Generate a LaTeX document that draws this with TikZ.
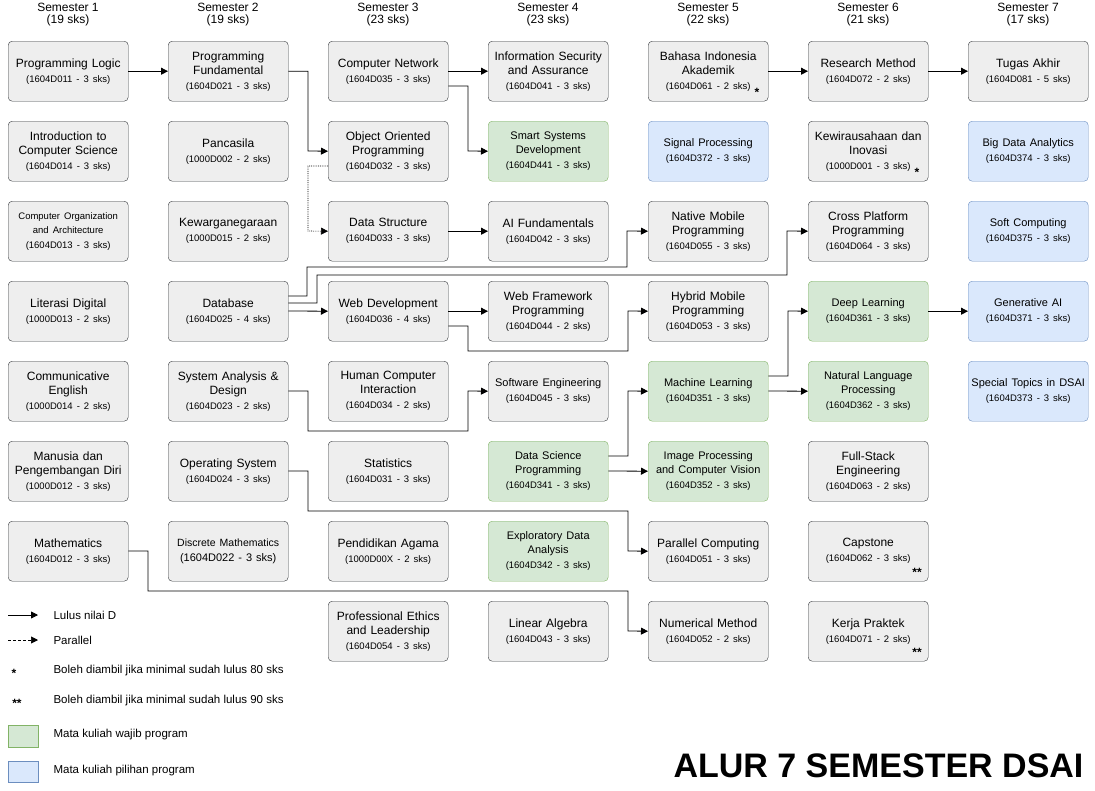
\documentclass[tikz,border=0pt]{standalone}
\usepackage{fontspec}
\setmainfont{Liberation Sans}
\usetikzlibrary{arrows.meta,positioning}
\definecolor{gfill}{HTML}{EEEEEE}
\definecolor{gline}{HTML}{36393D}
\definecolor{wfill}{HTML}{D5E8D4}
\definecolor{wline}{HTML}{82B366}
\definecolor{pfill}{HTML}{DAE8FC}
\definecolor{pline}{HTML}{6C8EBF}
\tikzset{
  mk/.style={draw=gline, fill=gfill, rounded corners=4pt, minimum width=120pt, minimum height=60pt,
    text width=118pt, align=center, anchor=north west, inner sep=1pt, font=\fontsize{12}{14}\selectfont,
    execute at begin node={\hyphenpenalty=10000\exhyphenpenalty=10000}},
  wajib/.style={mk, draw=wline, fill=wfill},
  pilih/.style={mk, draw=pline, fill=pfill},
  go/.style={-{Triangle[length=7pt,width=7pt]}, line width=0.8pt},
  hd/.style={font=\fontsize{12}{14}\selectfont, align=center},
  lg/.style={anchor=west, font=\fontsize{11.5}{12}\selectfont}
}
\newcommand{\kd}[1]{\\[1pt]{\fontsize{9.5}{12}\selectfont(#1)}}
\begin{document}
\begin{tikzpicture}[x=1pt,y=-1pt]
\useasboundingbox (0,0) rectangle (1095,790);
% headers
\foreach \n/\s [count=\i] in {1/19,2/19,3/23,4/23,5/22,6/21,7/17}
  \node[hd] (h\i) at ({160*\i-92},15) {Semester \n\\[-2pt](\s{} sks)};
% semester 1
\draw (8,41) node[mk] (pl) {Programming Logic\kd{1604D011 - 3 sks}};
\draw (8,121) node[mk] (ics) {Introduction to Computer Science\kd{1604D014 - 3 sks}};
\draw (8,201) node[mk] (coa) {{\fontsize{9.5}{14}\selectfont Computer Organization and Architecture}\kd{1604D013 - 3 sks}};
\draw (8,281) node[mk] (ld) {Literasi Digital\kd{1000D013 - 2 sks}};
\draw (8,361) node[mk] (ce) {Communicative English\kd{1000D014 - 2 sks}};
\draw (8,441) node[mk] (mpd) {Manusia dan Pengembangan Diri\kd{1000D012 - 3 sks}};
\draw (8,521) node[mk] (math) {Mathematics\kd{1604D012 - 3 sks}};
% semester 2
\draw (168,41) node[mk] (pf) {Programming Fundamental\kd{1604D021 - 3 sks}};
\draw (168,121) node[mk] (pan) {Pancasila\kd{1000D002 - 2 sks}};
\draw (168,201) node[mk] (kwn) {Kewarganegaraan\kd{1000D015 - 2 sks}};
\draw (168,281) node[mk] (db) {Database\kd{1604D025 - 4 sks}};
\draw (168,361) node[mk] (sad) {System Analysis \&\\Design\kd{1604D023 - 2 sks}};
\draw (168,441) node[mk] (os) {Operating System\kd{1604D024 - 3 sks}};
\draw (168,521) node[mk] (dm) {{\fontsize{10.5}{14}\selectfont Discrete Mathematics}\\[1pt]{\fontsize{11}{12}\selectfont(1604D022 - 3 sks)}};
% semester 3
\draw (328,41) node[mk] (cn) {Computer Network\kd{1604D035 - 3 sks}};
\draw (328,121) node[mk] (oop) {Object Oriented Programming\kd{1604D032 - 3 sks}};
\draw (328,201) node[mk] (ds) {Data Structure\kd{1604D033 - 3 sks}};
\draw (328,281) node[mk] (wd) {Web Development\kd{1604D036 - 4 sks}};
\draw (328,361) node[mk] (hci) {Human Computer Interaction\kd{1604D034 - 2 sks}};
\draw (328,441) node[mk] (stat) {Statistics\kd{1604D031 - 3 sks}};
\draw (328,521) node[mk] (pa) {Pendidikan Agama\kd{1000D00X - 2 sks}};
\draw (328,601) node[mk] (pel) {Professional Ethics and Leadership\kd{1604D054 - 3 sks}};
% semester 4
\draw (488,41) node[mk] (isa) {Information Security and Assurance\kd{1604D041 - 3 sks}};
\draw (488,121) node[wajib] (ssd) {{\fontsize{11}{14}\selectfont Smart Systems Development}\kd{1604D441 - 3 sks}};
\draw (488,201) node[mk] (aif) {AI Fundamentals\kd{1604D042 - 3 sks}};
\draw (488,281) node[mk] (wfp) {Web Framework Programming\kd{1604D044 - 2 sks}};
\draw (488,361) node[mk] (se) {{\fontsize{11}{14}\selectfont Software Engineering}\kd{1604D045 - 3 sks}};
\draw (488,441) node[wajib] (dsp) {{\fontsize{11}{14}\selectfont Data Science Programming}\kd{1604D341 - 3 sks}};
\draw (488,521) node[wajib] (eda) {{\fontsize{11}{14}\selectfont Exploratory Data\\Analysis}\kd{1604D342 - 3 sks}};
\draw (488,601) node[mk] (la) {Linear Algebra\kd{1604D043 - 3 sks}};
% semester 5
\draw (648,41) node[mk] (bia) {Bahasa Indonesia Akademik\kd{1604D061 - 2 sks}};
\draw (648,121) node[pilih] (sp) {{\fontsize{11}{14}\selectfont Signal Processing}\kd{1604D372 - 3 sks}};
\draw (648,201) node[mk] (nmp) {Native Mobile Programming\kd{1604D055 - 3 sks}};
\draw (648,281) node[mk] (hmp) {Hybrid Mobile Programming\kd{1604D053 - 3 sks}};
\draw (648,361) node[wajib] (ml) {{\fontsize{11}{14}\selectfont Machine Learning}\kd{1604D351 - 3 sks}};
\draw (648,441) node[wajib] (ipcv) {{\fontsize{11}{14}\selectfont Image Processing and Computer Vision}\kd{1604D352 - 3 sks}};
\draw (648,521) node[mk] (pc) {Parallel Computing\kd{1604D051 - 3 sks}};
\draw (648,601) node[mk] (nm) {Numerical Method\kd{1604D052 - 2 sks}};
% semester 6
\draw (808,41) node[mk] (rm) {Research Method\kd{1604D072 - 2 sks}};
\draw (808,121) node[mk] (ki) {Kewirausahaan dan\\Inovasi\kd{1000D001 - 3 sks}};
\draw (808,201) node[mk] (cpp) {Cross Platform Programming\kd{1604D064 - 3 sks}};
\draw (808,281) node[wajib] (dl) {{\fontsize{11}{14}\selectfont Deep Learning}\kd{1604D361 - 3 sks}};
\draw (808,361) node[wajib] (nlp) {{\fontsize{11}{14}\selectfont Natural Language Processing}\kd{1604D362 - 3 sks}};
\draw (808,441) node[mk] (fse) {Full-Stack Engineering\kd{1604D063 - 2 sks}};
\draw (808,521) node[mk] (cap) {Capstone\kd{1604D062 - 3 sks}};
\draw (808,601) node[mk] (kp) {Kerja Praktek\kd{1604D071 - 2 sks}};
% semester 7
\draw (968,41) node[mk] (ta) {Tugas Akhir\kd{1604D081 - 5 sks}};
\draw (968,121) node[pilih] (bda) {{\fontsize{11}{14}\selectfont Big Data Analytics}\kd{1604D374 - 3 sks}};
\draw (968,201) node[pilih] (sc) {{\fontsize{11}{14}\selectfont Soft Computing}\kd{1604D375 - 3 sks}};
\draw (968,281) node[pilih] (gai) {{\fontsize{11}{14}\selectfont Generative AI}\kd{1604D371 - 3 sks}};
\draw (968,361) node[pilih] (stds) {{\fontsize{11}{14}\selectfont Special Topics in DSAI}\kd{1604D373 - 3 sks}};
% stars
\node[font=\bfseries\fontsize{12}{12}\selectfont] (s1) at (757,92) {*};
\node[font=\bfseries\fontsize{12}{12}\selectfont] (s2) at (917,172) {*};
\node[font=\bfseries\fontsize{12}{12}\selectfont] (s3) at (917,572) {**};
\node[font=\bfseries\fontsize{12}{12}\selectfont] (s4) at (917,652) {**};
% prerequisites
\draw[go] (pl) -- (pf);
\draw[go] (pf.east) -| (308,151) -- (oop.west);
\draw[go, densely dotted, line width=0.6pt] (oop.west |- 0,166) -| (308,231) -- (ds.west);
\draw[go] (cn) -- (isa);
\draw[go] (cn.east |- 0,86) -| (468,151) -- (ssd.west);
\draw[go] (ds) -- (aif);
\draw[go] (db.east |- 0,296) -| (307,267) -| (627,231) -- (nmp.west);
\draw[go] (db.east |- 0,303) -| (317,275) -| (787,231) -- (cpp.west);
\draw[go] (db.east |- 0,311) -- (wd.west);
\draw[go] (wd) -- (wfp);
\draw[go] (wd.east |- 0,326) -| (468,351) -| (628,311) -- (hmp.west);
\draw[go] (sad.east |- 0,391) -| (308,431) -| (468,391) -- (se.west);
\draw[go] (dsp.east |- 0,456) -| (628,391) -- (ml.west);
\draw[go] (dsp.east |- 0,471) -- (ipcv.west);
\draw[go] (ml.east |- 0,376) -| (788,311) -- (dl.west);
\draw[go] (ml.east |- 0,391) -- (nlp.west);
\draw[go] (dl) -- (gai);
\draw[go] (os.east |- 0,471) -| (308,511) -| (628,551) -- (pc.west);
\draw[go] (math.east |- 0,551) -| (148,591) -| (628,631) -- (nm.west);
\draw[go] (bia) -- (rm);
\draw[go] (rm) -- (ta);
% legend
\coordinate (l1) at (8,615); \coordinate (l1e) at (38,615);
\coordinate (l2) at (8,640); \coordinate (l2e) at (38,640);
\draw[go] (l1) -- (l1e);
\draw[go, densely dashed, line width=0.6pt] (l2) -- (l2e);
\node[lg] (t1) at (50,615) {Lulus nilai D};
\node[lg] (t2) at (50,640) {Parallel};
\node[font=\bfseries\fontsize{12}{12}\selectfont] (t3s) at (14,673) {*};
\node[lg] (t3) at (50,671) {Boleh diambil jika minimal sudah lulus 80 sks};
\node[font=\bfseries\fontsize{12}{12}\selectfont] (t4s) at (17,703) {**};
\node[lg] (t4) at (50,701) {Boleh diambil jika minimal sudah lulus 90 sks};
\draw[draw=wline, fill=wfill] (8,725) rectangle (38,747);
\node[lg] (t5) at (50,735) {Mata kuliah wajib program};
\draw[draw=pline, fill=pfill] (8,761) rectangle (38,782);
\node[lg] (t6) at (50,771) {Mata kuliah pilihan program};
\node[anchor=east, font=\bfseries\fontsize{34}{36}\selectfont] (title) at (1087,766) {ALUR 7 SEMESTER DSAI};
\end{tikzpicture}
\end{document}
